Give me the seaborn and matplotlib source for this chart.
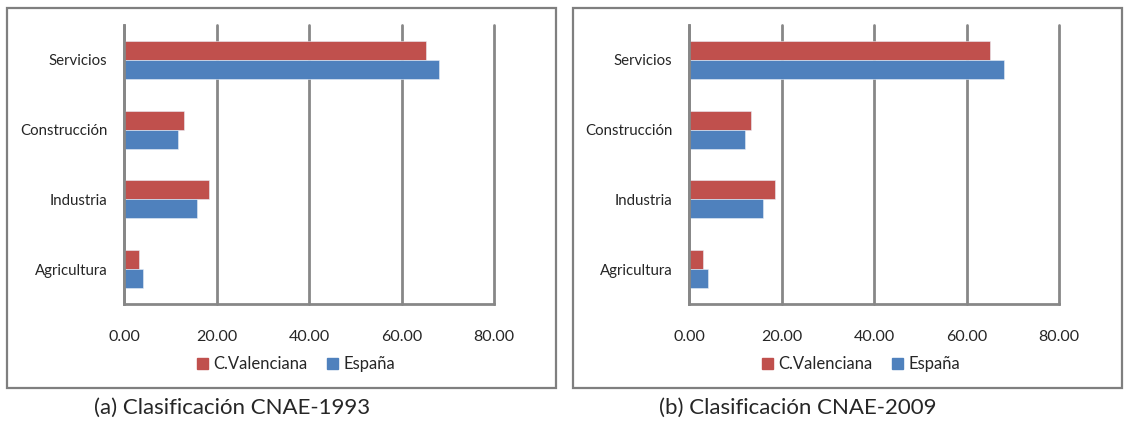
import pandas as pd
import seaborn as sns
import matplotlib.pyplot as plt
from matplotlib.patches import Rectangle, Patch

# Data
sectores = ['Servicios', 'Construcción', 'Industria', 'Agricultura']
series = ['C.Valenciana', 'España']
cnae1993_valenciana = [65.4, 12.9, 18.4, 3.2]
cnae1993_espana = [68.0, 11.7, 15.8, 4.2]
cnae2009_valenciana = [65.0, 13.3, 18.5, 3.0]
cnae2009_espana = [68.2, 12.0, 15.9, 4.0]
captions = ['(a) Clasificación CNAE-1993', '(b) Clasificación CNAE-2009']
xticks = [0, 20, 40, 60, 80]

colors = {'C.Valenciana': '#C0504D', 'España': '#4F81BD'}
grid_color = '#878787'

sns.set_style('white')
plt.rcParams['font.family'] = ['Lato', 'DejaVu Sans']


def make_df(val, esp):
    df = pd.DataFrame({'sector': sectores * 2,
                       'serie': [series[0]] * 4 + [series[1]] * 4,
                       'valor': val + esp})
    return df


W, H = 1126, 421
fig = plt.figure(figsize=(W / 100, H / 100), dpi=100)

panels = [
    (make_df(cnae1993_valenciana, cnae1993_espana), 7, 124),
    (make_df(cnae2009_valenciana, cnae2009_espana), 573, 689),
]

for i, (df, box_x, ax_x) in enumerate(panels):
    # panel frame
    fig.patches.append(Rectangle((box_x / W, (H - 388) / H), 549 / W, 380 / H,
                                 transform=fig.transFigure, fill=False,
                                 edgecolor='#7f7f7f', linewidth=1.6))

    ax = fig.add_axes([ax_x / W, (H - 304) / H, 370 / W, 279 / H])
    sns.barplot(data=df, y='sector', x='valor', hue='serie', order=sectores,
                hue_order=series, palette=colors, saturation=1, orient='h',
                width=0.545, edgecolor='#e8eef7', linewidth=0.4, legend=False,
                ax=ax)

    ax.set_xlim(0, 80)
    ax.set_xticks(xticks)
    ax.set_xticklabels([f'{t:.2f}' for t in xticks], fontsize=11.5)
    ax.set_ylim(3.5, -0.5)
    ax.set_yticks(range(len(sectores)))
    ax.set_yticklabels(sectores, fontsize=10.8)
    ax.set_yticks([j - 0.5 for j in range(len(sectores) + 1)], minor=True)
    ax.tick_params(axis='y', which='major', length=0, pad=12)
    ax.tick_params(axis='y', which='minor', length=6, width=2, color=grid_color)
    ax.tick_params(axis='x', length=5, width=2, color=grid_color, pad=14)
    ax.set_xlabel('')
    ax.set_ylabel('')

    ax.grid(axis='x', color=grid_color, linewidth=2)
    for line in ax.get_xgridlines():
        line.set_clip_on(False)
    ax.set_axisbelow(True)
    for s in ['top', 'right']:
        ax.spines[s].set_visible(False)
    for s in ['left', 'bottom']:
        ax.spines[s].set_color(grid_color)
        ax.spines[s].set_linewidth(2)

    handles = [Patch(color=colors[s], label=s) for s in series]
    fig.legend(handles=handles, loc='center',
               bbox_to_anchor=((ax_x + 172) / W, (H - 364) / H),
               ncol=2, frameon=False, fontsize=12, handlelength=0.65,
               handleheight=0.65, handletextpad=0.3, columnspacing=1.2)

    fig.text((box_x + 225) / W, (H - 408) / H, captions[i], fontsize=16,
             ha='center', va='center')

fig.savefig('out.png', dpi=100)
